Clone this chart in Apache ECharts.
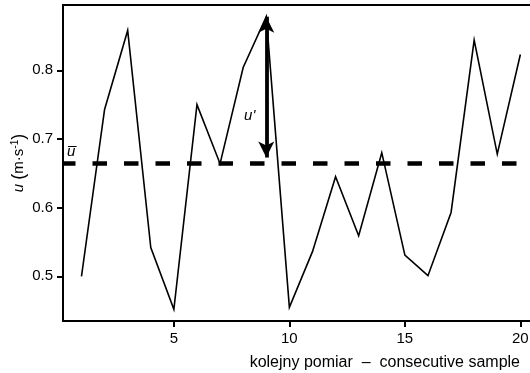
<!DOCTYPE html>
<html>
<head>
<meta charset="utf-8">
<script src="https://cdn.jsdelivr.net/npm/echarts@6/dist/echarts.min.js"></script>
<style>html,body{margin:0;padding:0;background:#fff}#c{width:530px;height:373px}</style>
</head>
<body>
<div id="c"></div>
<script>
const samples = [1,2,3,4,5,6,7,8,9,10,11,12,13,14,15,16,17,18,19,20];
const velocity = [0.500,0.743,0.858,0.542,0.452,0.750,0.664,0.804,0.878,0.455,0.536,0.645,0.559,0.680,0.531,0.501,0.593,0.844,0.678,0.823];
const meanValue = 0.665;
const fluctSample = 9;
const xTicks = [5,10,15,20];
const yTicks = [0.5,0.6,0.7,0.8];
const xName = 'kolejny pomiar  –  consecutive sample';

const chart = echarts.init(document.getElementById('c'), null, {renderer:'canvas'});
const font = 'Liberation Sans, Arial, sans-serif';
chart.setOption({
  animation:false,
  backgroundColor:'#fff',
  grid:{left:63, right:-10, top:5, bottom:52, show:true, borderColor:'#000', borderWidth:2, backgroundColor:'transparent', containLabel:false, outerBoundsMode:'none'},
  xAxis:{
    type:'value', min:0.2, max:20.85,
    name:xName, nameLocation:'end', nameGap:0, nameMoveOverlap:false,
    nameTextStyle:{fontFamily:font, fontSize:16, color:'#000', align:'right', verticalAlign:'top', padding:[34,20,0,0]},
    axisLine:{show:true, lineStyle:{color:'#000', width:2}},
    axisTick:{show:true, inside:false, length:6, lineStyle:{color:'#000', width:2}, customValues:xTicks},
    axisLabel:{fontFamily:font, fontSize:15, color:'#000', margin:10, customValues:xTicks},
    splitLine:{show:false}
  },
  yAxis:{
    type:'value', min:0.435, max:0.895,
    name:'{i|u} {p|(}{t|m·s}{s|-1}{p|)}', nameLocation:'middle', nameGap:35, nameRotate:90, nameMoveOverlap:false,
    nameTextStyle:{fontFamily:font, fontSize:15, color:'#000',
      rich:{
        i:{fontFamily:font, fontSize:15, fontStyle:'italic', color:'#000'},
        p:{fontFamily:font, fontSize:18, color:'#000'},
        t:{fontFamily:font, fontSize:15, color:'#000'},
        s:{fontFamily:font, fontSize:10, color:'#000', verticalAlign:'top', padding:[0,0,8,0]}
      }},
    axisLine:{show:true, lineStyle:{color:'#000', width:2}},
    axisTick:{show:true, inside:false, length:6, lineStyle:{color:'#000', width:2}, customValues:yTicks},
    axisLabel:{fontFamily:font, fontSize:15, color:'#000', margin:10, customValues:yTicks, formatter:v=>v.toFixed(1)},
    splitLine:{show:false}
  },
  series:[{
    type:'line',
    data:samples.map((s,i)=>[s,velocity[i]]),
    showSymbol:false, symbol:'none',
    lineStyle:{color:'#000', width:1.6, join:'miter'},
    markLine:{
      silent:true, animation:false, precision:3,
      symbol:['none','none'],
      data:[
        {yAxis:meanValue,
         lineStyle:{color:'#000', width:4.5, type:[14.5,17], dashOffset:2, cap:'butt'},
         label:{show:true, position:'insideStartTop', distance:[4,4], formatter:'u\u0305', fontFamily:font, fontStyle:'italic', fontSize:15, color:'#000'}},
        [
          {coord:[fluctSample, meanValue+0.008], symbol:'arrow', symbolSize:[12,16]},
          {coord:[fluctSample, velocity[8]], symbol:'arrow', symbolSize:[12,16]}
        ]
      ],
      lineStyle:{color:'#000', width:3.8, type:'solid'},
      label:{show:false}
    },
    markPoint:{
      silent:true, symbol:'circle', symbolSize:0,
      data:[{coord:[fluctSample, 0.733], value:"u'"}],
      label:{show:true, position:'left', distance:11, formatter:"u'", fontFamily:font, fontStyle:'italic', fontSize:15, color:'#000'}
    }
  }]
});
</script>
</body>
</html>
